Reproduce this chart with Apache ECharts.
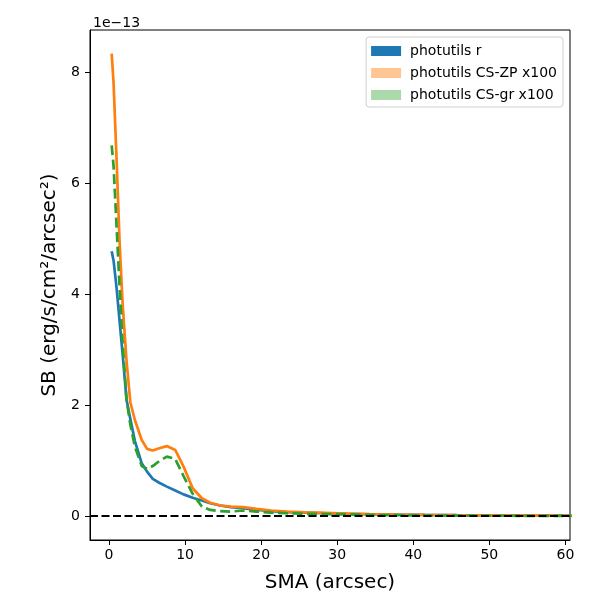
<!DOCTYPE html>
<html>
<head>
<meta charset="utf-8">
<script src="https://cdn.jsdelivr.net/npm/echarts@6/dist/echarts.min.js"></script>
<style>
html, body { margin: 0; padding: 0; background: #fff; }
#SBChart { width: 600px; height: 600px; }
</style>
</head>
<body>
<div id="SBChart"></div>
<script>
// surface brightness profiles, values in units of 1e-13 erg/s/cm2/arcsec2
var smaArr = [0.35, 0.6, 1.0, 1.4, 1.8, 2.3, 2.8, 3.4, 4.3, 5.0, 5.75, 6.6, 7.6, 8.7, 9.8, 11.0, 12.2, 13.3, 14.6,
	16.0, 17.6, 19.4, 21.3, 23.4, 25.8, 28.4, 31.2, 34.3, 37.8, 41.5, 45.7, 50.3, 55.3, 60.8];
var rArr = [4.77, 4.6, 4.1, 3.5, 2.9, 2.1, 1.75, 1.35, 0.95, 0.80, 0.67, 0.60, 0.53, 0.46, 0.39, 0.33, 0.28, 0.23, 0.19,
	0.16, 0.14, 0.11, 0.09, 0.07, 0.06, 0.05, 0.04, 0.032, 0.025, 0.02, 0.015, 0.012, 0.01, 0.008];
var zpArr = [8.33, 7.8, 6.4, 4.9, 3.8, 2.8, 2.05, 1.73, 1.37, 1.21, 1.18, 1.22, 1.26, 1.19, 0.89, 0.50, 0.32, 0.24, 0.19,
	0.17, 0.16, 0.13, 0.10, 0.08, 0.065, 0.055, 0.045, 0.035, 0.027, 0.02, 0.015, 0.012, 0.01, 0.008];
var grArr = [6.68, 6.3, 5.2, 4.1, 3.1, 2.1, 1.65, 1.25, 0.90, 0.85, 0.90, 0.99, 1.07, 1.03, 0.72, 0.40, 0.17, 0.11, 0.09,
	0.08, 0.10, 0.08, 0.06, 0.05, 0.04, 0.035, 0.03, 0.02, 0.015, 0.01, 0.008, 0.005, 0.004, 0.003];
var legendArr = ['photutils r', 'photutils CS-ZP x100', 'photutils CS-gr x100'];
var xTicks = [0, 10, 20, 30, 40, 50, 60];
var yTicks = [0, 2, 4, 6, 8];

function pairs(ys) {
	return smaArr.map(function(x, i) { return [x, ys[i]]; });
}

var SBChart = echarts.init(document.getElementById('SBChart'));
SBChart.setOption({
	animation : false,
	textStyle : { fontFamily : 'DejaVu Sans' },
	title : {
		text : '1e\u221213',
		left : 88,
		top : 11,
		textStyle : { fontSize : 14, fontWeight : 'normal', color : '#000' }
	},
	legend : {
		orient : 'vertical',
		right : 37,
		top : 37,
		padding : [7, 6, 5, 5],
		itemWidth : 30,
		itemHeight : 10,
		itemGap : 8,
		borderColor : '#d0d0d0',
		borderWidth : 1,
		borderRadius : 3,
		textStyle : { fontSize : 14, color : '#000', padding : [0, 0, 0, 4] },
		data : [ {
			name : legendArr[0], icon : 'rect', itemStyle : { color : '#1f77b4' }
		}, {
			name : legendArr[1], icon : 'rect', itemStyle : { color : 'rgba(255,127,14,0.45)' }
		}, {
			name : legendArr[2], icon : 'rect', itemStyle : { color : 'rgba(44,160,44,0.4)' }
		} ]
	},
	grid : {
		left : 90, right : 30, top : 30, bottom : 60,
		show : true,
		borderColor : '#000',
		borderWidth : 1
	},
	xAxis : {
		type : 'value',
		min : -2.5,
		max : 60.6,
		name : 'SMA (arcsec)',
		nameLocation : 'middle',
		nameGap : 33,
		nameTextStyle : { fontSize : 20, color : '#000' },
		axisLine : { onZero : false, lineStyle : { color : '#000' } },
		axisTick : { show : true, inside : false, length : 5, customValues : xTicks, lineStyle : { color : '#000' } },
		axisLabel : { customValues : xTicks, fontSize : 14, color : '#000', margin : 8 },
		splitLine : { show : false }
	},
	yAxis : {
		type : 'value',
		min : -0.432,
		max : 8.757,
		name : 'SB (erg/s/cm\u00b2/arcsec\u00b2)',
		nameLocation : 'middle',
		nameRotate : 90,
		nameGap : 28,
		nameTextStyle : { fontSize : 20, color : '#000' },
		axisLine : { onZero : false, lineStyle : { color : '#000' } },
		axisTick : { show : true, inside : false, length : 5, customValues : yTicks, lineStyle : { color : '#000' } },
		axisLabel : { customValues : yTicks, fontSize : 14, color : '#000', margin : 10 },
		splitLine : { show : false }
	},
	series : [ {
		name : legendArr[0],
		type : 'line',
		showSymbol : false,
		color : '#1f77b4',
		lineStyle : { width : 2.7, color : '#1f77b4' },
		data : pairs(rArr),
		markLine : {
			silent : true,
			symbol : 'none',
			label : { show : false },
			lineStyle : { color : '#000', type : [8, 3.5], width : 2 },
			data : [ { yAxis : 0 } ]
		}
	}, {
		name : legendArr[1],
		type : 'line',
		showSymbol : false,
		color : '#ff7f0e',
		lineStyle : { width : 2.7, color : '#ff7f0e' },
		data : pairs(zpArr)
	}, {
		name : legendArr[2],
		type : 'line',
		showSymbol : false,
		color : '#2ca02c',
		lineStyle : { width : 2.7, color : '#2ca02c', type : [10, 4.5] },
		data : pairs(grArr)
	} ]
});
</script>
</body>
</html>
